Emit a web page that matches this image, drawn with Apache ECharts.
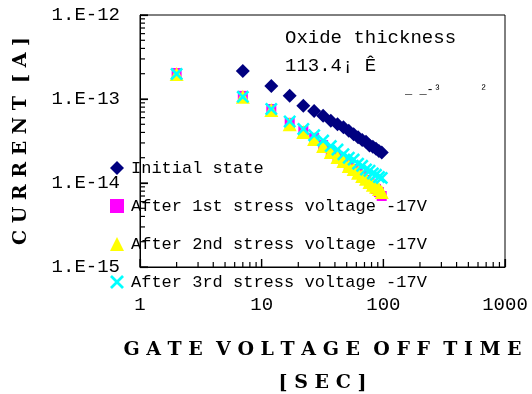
<!DOCTYPE html>
<html>
<head>
    <meta charset="UTF-8">
    <title></title>
    <script type="text/javascript" src="https://cdn.jsdelivr.net/npm/echarts@6/dist/echarts.min.js"></script>
    <style>
        html, body { margin: 0; padding: 0; background: #fff; }
        #main { width: 532px; height: 394px; }
    </style>
</head>
<body>
<div id="main"></div>
<script>
    // gate voltage off time [sec]
    var times = [2, 7, 12, 17, 22, 27, 32, 37, 42, 47, 52, 57, 62, 67, 72, 77, 82, 87, 92, 97];
    var initialState = [null, 2.15e-13, 1.43e-13, 1.09e-13, 8.3e-14, 7.2e-14, 6.3e-14, 5.5e-14, 5.0e-14, 4.6e-14,
        4.2e-14, 3.8e-14, 3.5e-14, 3.25e-14, 3.1e-14, 2.8e-14, 2.7e-14, 2.55e-14, 2.4e-14, 2.3e-14];
    var after1st = [2.04e-13, 1.09e-13, 7.6e-14, 5.2e-14, 4.16e-14, 3.44e-14, 2.83e-14, 2.4e-14, 2.1e-14, 1.88e-14,
        1.64e-14, 1.47e-14, 1.32e-14, 1.21e-14, 1.09e-14, 1.0e-14, 9.2e-15, 8.5e-15, 7.8e-15, 7.0e-15];
    var after2nd = [1.99e-13, 1.06e-13, 7.4e-14, 5.0e-14, 4.05e-14, 3.34e-14, 2.75e-14, 2.34e-14, 2.04e-14, 1.83e-14,
        1.59e-14, 1.47e-14, 1.32e-14, 1.21e-14, 1.12e-14, 1.03e-14, 9.5e-15, 9.0e-15, 8.5e-15, 7.8e-15];
    var after3rd = [1.99e-13, 1.06e-13, 7.6e-14, 5.4e-14, 4.4e-14, 3.7e-14, 3.2e-14, 2.75e-14, 2.5e-14, 2.2e-14,
        2.0e-14, 1.9e-14, 1.7e-14, 1.6e-14, 1.45e-14, 1.4e-14, 1.3e-14, 1.25e-14, 1.18e-14, 1.15e-14];

    var seriesNames = ['Initial state', 'After 1st stress voltage -17V', 'After 2nd stress voltage -17V', 'After 3rd stress voltage -17V'];
    var xTickLabels = ['1', '10', '100', '1000'];
    var yTickLabels = ['1.E-15', '1.E-14', '1.E-13', '1.E-12'];
    var xMajorTicks = [1, 10, 100, 1000];
    var yMajorTicks = [1e-15, 1e-14, 1e-13, 1e-12];
    var xMinorTicks = [2, 3, 4, 5, 6, 7, 8, 9, 20, 30, 40, 50, 60, 70, 80, 90, 200, 300, 400, 500, 600, 700, 800, 900];
    var yMinorTicks = [2e-15, 3e-15, 4e-15, 5e-15, 6e-15, 7e-15, 8e-15, 9e-15,
        2e-14, 3e-14, 4e-14, 5e-14, 6e-14, 7e-14, 8e-14, 9e-14,
        2e-13, 3e-13, 4e-13, 5e-13, 6e-13, 7e-13, 8e-13, 9e-13];

    var crossPath = 'path://M0,1.4L1.4,0L5,3.6L8.6,0L10,1.4L6.4,5L10,8.6L8.6,10L5,6.4L1.4,10L0,8.6L3.6,5Z';
    var monoFont = '"Liberation Mono", monospace';
    var titleFont = '"DejaVu Serif", serif';

    function pairs(ys) {
        var out = [];
        for (var i = 0; i < times.length; i++) {
            if (ys[i] != null) out.push([times[i], ys[i]]);
        }
        return out;
    }

    function decadeIndex(v) {
        return Math.round(Math.log10(v));
    }

    // tick marks as tiny bars sitting on the axes, placed by the axis scales
    function tickSeries(values, onX, len) {
        var data = values.map(function (v) { return onX ? [v, 1e-15] : [1, v]; });
        return {
            type: 'scatter', silent: true, clip: false, symbol: 'rect', z: 5,
            symbolSize: onX ? [1.2, len] : [len, 1.2],
            symbolOffset: onX ? [0, -len / 2] : [len / 2, 0],
            itemStyle: {color: '#000', opacity: 1},
            emphasis: {disabled: true},
            data: data
        };
    }

    var myChart = echarts.init(document.getElementById('main'));
    myChart.setOption({
        animation: false,
        grid: {
            left: 140, right: 27, top: 15, bottom: 127,
            outerBoundsMode: 'none',
            show: true, borderColor: '#000', borderWidth: 1
        },
        legend: {
            orient: 'vertical',
            left: 105,
            top: 153,
            itemWidth: 14,
            itemHeight: 14,
            itemGap: 18,
            textStyle: {fontFamily: monoFont, fontSize: 17, color: '#000', lineHeight: 20, padding: [0, 0, 0, 2]},
            data: [
                {name: seriesNames[0], icon: 'diamond'},
                {name: seriesNames[1], icon: 'rect'},
                {name: seriesNames[2], icon: 'triangle'},
                {name: seriesNames[3], icon: crossPath}
            ]
        },
        xAxis: {
            type: 'log',
            min: 1,
            max: 1000,
            name: 'G A T E  V O L T A G E  O F F  T I M E\n[ S E C ]',
            nameLocation: 'middle',
            nameGap: 67,
            nameTextStyle: {fontFamily: titleFont, fontWeight: 'bold', fontSize: 19, color: '#000', lineHeight: 33},
            axisLine: {show: true, lineStyle: {color: '#000', width: 1}},
            axisTick: {show: true, inside: true, length: 8, lineStyle: {color: '#000', width: 1.2}},
            axisLabel: {
                fontFamily: monoFont, fontSize: 19, color: '#000', margin: 28,
                formatter: function (v) { return xTickLabels[decadeIndex(v)]; }
            },
            splitLine: {show: false}
        },
        yAxis: {
            type: 'log',
            min: 1e-15,
            max: 1e-12,
            name: 'C U R R E N T  [ A ]',
            nameLocation: 'middle',
            nameRotate: 90,
            nameGap: 109,
            nameTextStyle: {fontFamily: titleFont, fontWeight: 'bold', fontSize: 19, color: '#000'},
            axisLine: {show: true, lineStyle: {color: '#000', width: 1}},
            axisTick: {show: true, inside: true, length: 8, lineStyle: {color: '#000', width: 1.2}},
            axisLabel: {
                fontFamily: monoFont, fontSize: 19, color: '#000', margin: 20,
                formatter: function (v) { return yTickLabels[decadeIndex(v) + 15]; }
            },
            splitLine: {show: false}
        },
        series: [
            tickSeries(xMajorTicks, true, 8),
            tickSeries(xMinorTicks, true, 5),
            tickSeries(yMajorTicks, false, 8),
            tickSeries(yMinorTicks, false, 5),
            {name: seriesNames[0], type: 'scatter', symbol: 'diamond', symbolSize: 14,
                itemStyle: {color: '#000080', opacity: 1}, data: pairs(initialState)},
            {name: seriesNames[1], type: 'scatter', symbol: 'rect', symbolSize: 10,
                itemStyle: {color: '#ff00ff', opacity: 1}, data: pairs(after1st)},
            {name: seriesNames[2], type: 'scatter', symbol: 'triangle', symbolSize: 14,
                itemStyle: {color: '#ffff00', opacity: 1}, data: pairs(after2nd)},
            {name: seriesNames[3], type: 'scatter', symbol: crossPath, symbolSize: 13,
                itemStyle: {color: '#00ffff', opacity: 1}, data: pairs(after3rd)}
        ],
        graphic: [
            {type: 'text', left: 285, top: 28, style: {text: 'Oxide thickness', font: '19px ' + monoFont, fill: '#000'}},
            {type: 'text', left: 285, top: 56, style: {text: '113.4¡ Ê', font: '19px ' + monoFont, fill: '#000'}},
            {type: 'text', left: 405, top: 84, style: {text: '_ _-³', font: '12px ' + monoFont, fill: '#000'}},
            {type: 'text', left: 480, top: 84, style: {text: '²', font: '12px ' + monoFont, fill: '#000'}}
        ]
    });
</script>
</body>
</html>
